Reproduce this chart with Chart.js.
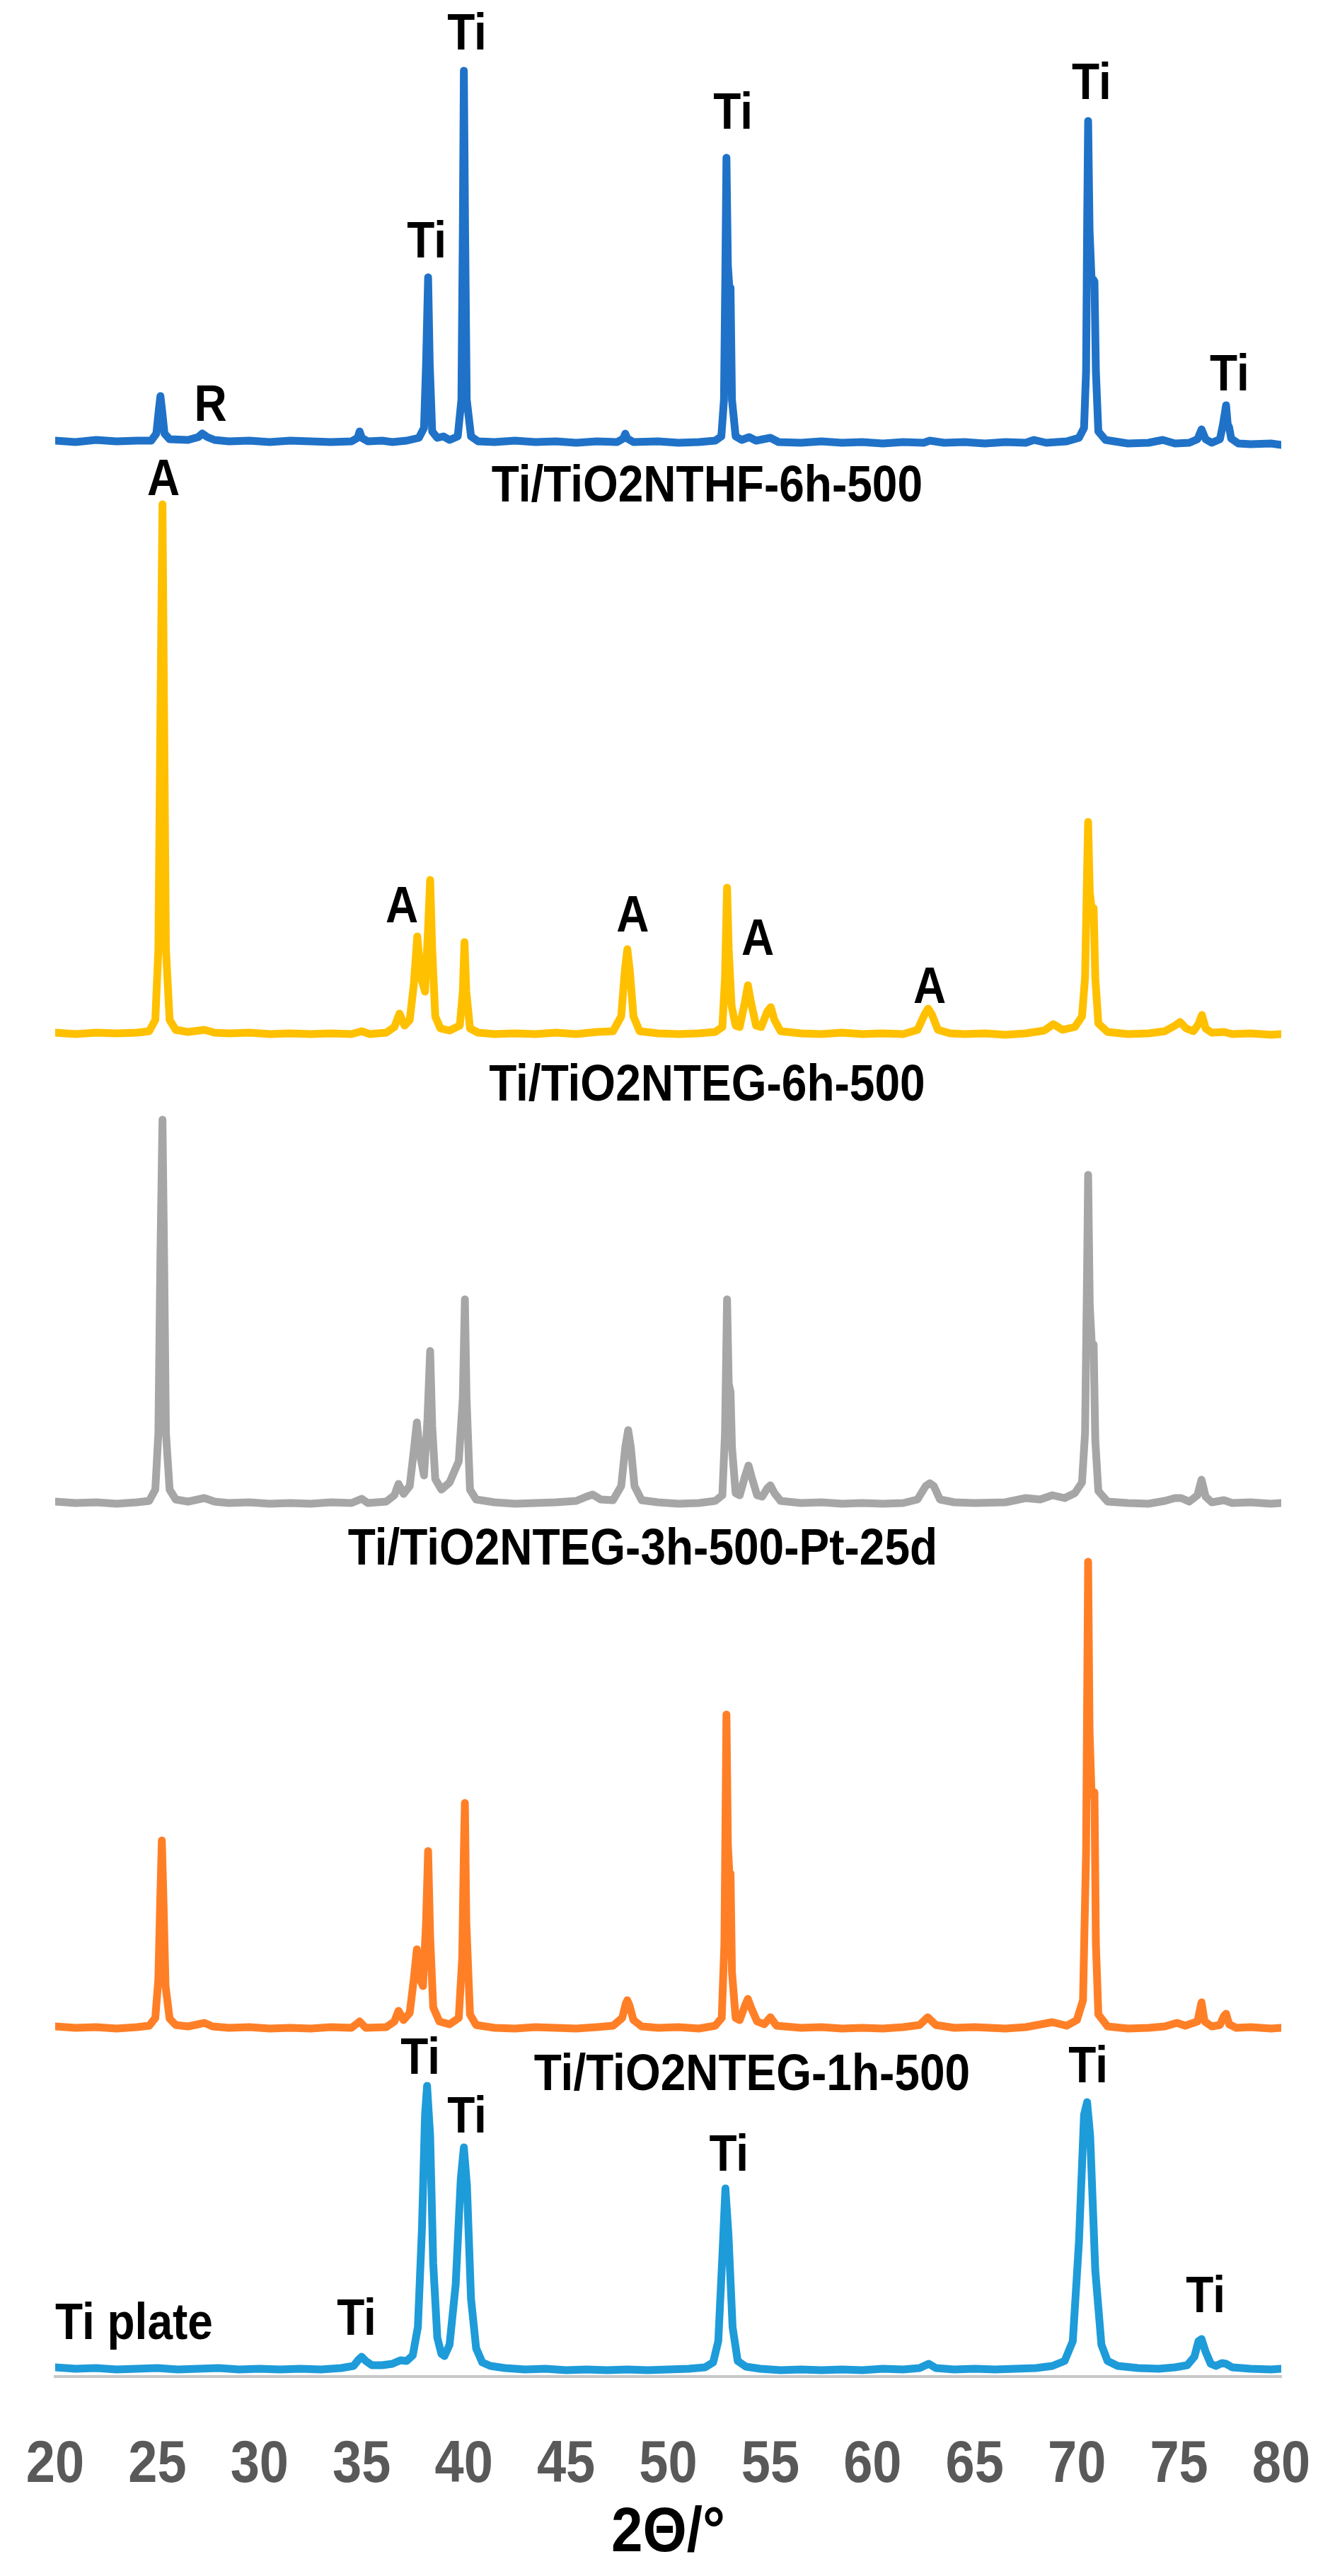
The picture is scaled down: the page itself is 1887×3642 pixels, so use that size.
<!DOCTYPE html>
<html>
<head>
<meta charset="utf-8">
<script src="https://cdn.jsdelivr.net/npm/chart.js@4.4.1/dist/chart.umd.min.js"></script>
<style>
  html, body { margin: 0; padding: 0; background: #fff; }
  #wrap { width: 1887px; height: 3642px; }
</style>
</head>
<body>
<div id="wrap"><canvas id="xrd" width="1887" height="3642"></canvas></div>
<script>
// 2θ tick labels
const twoThetaTicks = [20, 25, 30, 35, 40, 45, 50, 55, 60, 65, 70, 75, 80];

const seriesNames = ['Ti/TiO2NTHF-6h-500', 'Ti/TiO2NTEG-6h-500', 'Ti/TiO2NTEG-3h-500-Pt-25d', 'Ti/TiO2NTEG-1h-500', 'Ti plate'];
// vertical stacking offset of each pattern (a.u.)
const seriesOffsets = [2735, 1898, 1234, 492, 10];

// patterns as [2θ, intensity a.u.]
const thf6h = [
  [20,2],[21,0],[22,3],[23,1],[24,2],[24.7,2],[24.95,12],[25.07,45],[25.15,65],[25.23,45],[25.35,12],[25.6,4],
  [26.5,3],[27.0,7],[27.2,12],[27.45,7],[27.8,3],[28.5,1],[29.5,2],[30.5,0],[31.5,2],[32.5,1],[33.5,0],[34.5,1],
  [34.8,6],[34.9,15],[35.0,6],[35.3,1],[36,2],[36.5,0],[37.2,2],[37.8,6],[38.05,20],[38.15,110],[38.25,233],
  [38.33,110],[38.45,15],[38.7,6],[39.0,8],[39.3,3],[39.7,8],[39.88,60],[39.95,300],[40.0,525],[40.06,300],
  [40.14,60],[40.35,8],[40.7,1],[41.5,0],[42.5,2],[43.5,0],[44.5,1],[45.5,-1],[46.5,1],[47.5,0],[47.8,5],
  [47.9,12],[48.0,5],[48.3,0],[49.5,1],[50.5,-1],[51.5,0],[52.3,2],[52.6,8],[52.73,60],[52.8,250],[52.85,402],
  [52.92,250],[53.0,215],[53.05,218],[53.12,60],[53.3,8],[53.6,3],[53.96,7],[54.3,2],[55.0,6],[55.4,0],[56.5,-1],
  [57.5,1],[58.5,-1],[59.5,0],[60.5,-2],[61.5,0],[62.5,-1],[62.8,2],[63.5,-1],[64.5,0],[65.5,-2],[66.5,0],
  [67.5,-1],[67.9,3],[68.5,-1],[69.5,1],[70.1,6],[70.35,20],[70.45,100],[70.5,300],[70.55,454],[70.62,300],
  [70.72,228],[70.8,230],[70.86,227],[70.93,100],[71.05,15],[71.4,3],[72.5,-2],[73.5,-1],[74.2,3],[74.8,-2],
  [75.5,-1],[75.9,4],[76.1,18],[76.3,4],[76.6,-1],[77.0,4],[77.15,25],[77.3,52],[77.38,25],[77.45,21],[77.55,5],
  [77.9,-2],[78.5,-3],[79.5,-2],[80,-4]
];

const teg6h = [
  [20,2],[21,0],[22,2],[23,1],[24,2],[24.6,4],[24.9,20],[25.05,120],[25.15,450],[25.25,749],[25.33,450],
  [25.42,120],[25.6,20],[25.9,6],[26.5,3],[27.3,6],[27.8,2],[28.5,1],[29.5,2],[30.5,0],[31.5,1],[32.5,0],
  [33.5,1],[34.5,0],[35.0,4],[35.4,0],[36.2,2],[36.6,10],[36.85,29],[37.1,12],[37.35,20],[37.55,70],[37.72,138],
  [37.9,80],[38.1,60],[38.25,150],[38.35,218],[38.45,120],[38.6,25],[38.85,8],[39.3,5],[39.8,12],[39.95,60],
  [40.03,130],[40.12,60],[40.3,8],[40.7,2],[41.5,0],[42.5,1],[43.5,0],[44.5,2],[45.5,0],[46.5,3],[47.3,4],
  [47.7,25],[47.88,90],[48.0,120],[48.12,90],[48.3,25],[48.6,4],[49.5,1],[50.5,0],[51.5,1],[52.3,3],[52.65,10],
  [52.78,80],[52.88,207],[52.96,120],[53.1,40],[53.3,12],[53.5,10],[53.75,45],[53.9,69],[54.05,45],[54.3,12],
  [54.55,10],[54.85,32],[55.02,38],[55.2,20],[55.5,4],[56.5,1],[57.5,0],[58.5,2],[59.5,0],[60.5,1],[61.5,0],
  [62.2,6],[62.55,28],[62.72,36],[62.9,28],[63.2,6],[63.8,1],[64.5,0],[65.5,1],[66.5,-1],[67.5,1],[68.4,5],
  [68.85,14],[69.3,6],[69.9,10],[70.25,25],[70.4,80],[70.5,230],[70.55,300],[70.63,200],[70.73,175],[70.82,178],
  [70.9,80],[71.05,15],[71.5,3],[72.5,0],[73.5,1],[74.3,4],[74.8,12],[75.05,17],[75.35,8],[75.7,4],[75.95,14],
  [76.12,27],[76.3,8],[76.6,2],[77.2,3],[77.6,0],[78.5,1],[79.5,-1],[80,0]
];

const teg3hPt = [
  [20,3],[21,1],[22,2],[23,0],[24,2],[24.6,4],[24.9,20],[25.05,100],[25.15,350],[25.25,543],[25.33,350],
  [25.42,100],[25.6,20],[25.9,6],[26.5,3],[27.3,8],[27.8,3],[28.5,1],[29.5,2],[30.5,0],[31.5,1],[32.5,0],
  [33.5,2],[34.5,1],[35.0,7],[35.3,1],[36.2,3],[36.6,12],[36.8,28],[37.05,14],[37.35,25],[37.55,75],[37.7,115],
  [37.85,70],[38.05,40],[38.22,120],[38.35,216],[38.45,110],[38.6,35],[38.9,20],[39.3,30],[39.6,50],[39.75,60],
  [39.95,150],[40.05,289],[40.13,150],[40.3,20],[40.6,6],[41.5,2],[42.5,0],[43.5,1],[44.5,2],[45.5,4],[46.0,10],
  [46.3,13],[46.7,6],[47.3,5],[47.7,25],[47.9,80],[48.04,104],[48.17,80],[48.35,25],[48.7,5],[49.5,2],[50.5,0],
  [51.5,1],[52.3,4],[52.65,12],[52.78,100],[52.88,289],[52.96,170],[53.05,158],[53.12,80],[53.3,15],[53.5,12],
  [53.75,38],[53.93,54],[54.08,38],[54.35,12],[54.6,10],[54.85,22],[55.0,26],[55.2,15],[55.5,4],[56.5,1],
  [57.5,2],[58.5,0],[59.5,1],[60.5,0],[61.5,1],[62.2,6],[62.6,25],[62.8,29],[63.0,25],[63.3,6],[64,2],[65,1],
  [66.5,2],[67.5,8],[68.2,6],[68.8,12],[69.4,8],[69.9,15],[70.25,30],[70.4,100],[70.5,330],[70.55,465],
  [70.63,280],[70.73,225],[70.82,225],[70.9,90],[71.05,18],[71.5,3],[72.5,1],[73.5,0],[74.3,4],[74.8,8],
  [75.1,8],[75.5,3],[75.9,12],[76.1,34],[76.3,10],[76.6,2],[77.2,5],[77.6,1],[78.5,2],[79.5,0],[80,1]
];

const teg1h = [
  [20,3],[21,1],[22,2],[23,0],[24,2],[24.6,4],[24.9,15],[25.05,70],[25.14,180],[25.22,266],[25.3,180],
  [25.4,60],[25.6,14],[25.9,5],[26.5,3],[27.0,6],[27.3,8],[27.7,3],[28.5,1],[29.5,2],[30.5,0],[31.5,1],
  [32.5,0],[33.5,2],[34.5,1],[34.9,10],[35.2,1],[36.2,2],[36.6,10],[36.8,25],[37.05,12],[37.35,22],[37.55,70],
  [37.7,112],[37.85,70],[38.0,60],[38.15,150],[38.25,251],[38.35,130],[38.5,30],[38.8,10],[39.3,6],[39.75,15],
  [39.92,100],[40.0,250],[40.05,319],[40.12,150],[40.3,20],[40.6,5],[41.5,1],[42.5,0],[43.5,2],[44.5,1],
  [45.5,0],[46.5,2],[47.3,4],[47.75,15],[47.92,35],[48.0,40],[48.1,33],[48.3,12],[48.7,3],[49.5,1],[50.5,2],
  [51.5,0],[52.3,4],[52.62,15],[52.75,120],[52.85,444],[52.92,260],[53.0,215],[53.05,219],[53.12,80],[53.3,15],
  [53.5,12],[53.75,32],[53.9,42],[54.05,30],[54.35,10],[54.7,6],[55.0,16],[55.3,4],[56.5,1],[57.5,2],[58.5,0],
  [59.5,1],[60.5,0],[61.5,2],[62.3,5],[62.7,16],[63.1,5],[64,1],[65,2],[66.5,0],[67.5,2],[68.8,9],[69.5,4],
  [70.0,12],[70.3,40],[70.45,250],[70.55,660],[70.62,420],[70.72,330],[70.8,335],[70.86,334],[70.93,120],
  [71.05,20],[71.5,3],[72.5,0],[73.5,1],[74.3,3],[74.9,8],[75.3,4],[75.9,10],[76.1,37],[76.25,10],[76.6,3],
  [77.0,5],[77.2,18],[77.3,21],[77.45,6],[77.8,1],[78.5,2],[79.5,0],[80,1]
];

const tiPlate = [
  [20,3],[21,1],[22,2],[23,0],[24,1],[25,2],[26,0],[27,1],[28,2],[29,0],[30,1],[31,0],[32,1],[33,0],[34,2],
  [34.6,5],[34.85,14],[35.0,18],[35.2,12],[35.5,6],[36.0,6],[36.5,8],[36.9,13],[37.2,12],[37.5,20],[37.75,60],
  [37.95,200],[38.1,360],[38.2,401],[38.35,330],[38.5,150],[38.7,45],[38.9,22],[39.05,19],[39.3,35],[39.6,120],
  [39.85,270],[40.0,314],[40.15,260],[40.35,100],[40.6,30],[40.9,10],[41.3,5],[42,2],[43,0],[44,1],[45,-1],
  [46,0],[47,-1],[48,0],[49,-1],[50,0],[51,1],[51.8,3],[52.2,10],[52.45,40],[52.65,160],[52.8,256],[52.95,190],
  [53.15,60],[53.4,12],[53.8,4],[54.5,1],[55.5,-1],[56.5,0],[57.5,-1],[58.5,0],[59.5,-1],[60.5,1],[61.5,0],
  [62.3,2],[62.75,8],[63.1,2],[64,0],[65,1],[66,0],[67,1],[68,2],[68.8,5],[69.4,12],[69.8,40],[70.1,180],
  [70.35,360],[70.5,378],[70.65,330],[70.9,140],[71.2,35],[71.5,12],[72,5],[73,2],[74,1],[74.8,3],[75.4,6],
  [75.75,18],[75.95,40],[76.1,43],[76.3,25],[76.55,8],[76.8,5],[77.1,9],[77.3,8],[77.6,3],[78.5,1],[79.5,0],[80,1]
];

// phase marks and sample names, anchored in data units
const peakLabels = [
  { text: 'Ti', x: 40.15, y: 3310 },
  { text: 'Ti', x: 38.18, y: 3016 },
  { text: 'Ti', x: 53.17, y: 3198 },
  { text: 'Ti', x: 70.72, y: 3240 },
  { text: 'Ti', x: 77.47, y: 2828 },
  { text: 'R', x: 27.6, y: 2785 },
  { text: seriesNames[0], x: 51.9, y: 2671 },
  { text: 'A', x: 25.3, y: 2680 },
  { text: 'A', x: 36.97, y: 2076 },
  { text: 'A', x: 48.26, y: 2063 },
  { text: 'A', x: 54.38, y: 2030 },
  { text: 'A', x: 62.8, y: 1962 },
  { text: seriesNames[1], x: 51.9, y: 1824 },
  { text: seriesNames[2], x: 48.75, y: 1168 },
  { text: seriesNames[3], x: 54.1, y: 425 },
  { text: 'Ti', x: 37.87, y: 448 },
  { text: 'Ti', x: 40.15, y: 365 },
  { text: 'Ti', x: 52.97, y: 311 },
  { text: 'Ti', x: 70.55, y: 436 },
  { text: 'Ti', x: 76.3, y: 111 },
  { text: 'Ti', x: 34.75, y: 79 },
  { text: seriesNames[4], x: 20, y: 73, align: 'left' }
];

const lineColors = ['#1f72c7', '#ffc000', '#a6a6a6', '#ff7f27', '#1e9bd9'];
const fontFamily = '"Liberation Sans", Arial, sans-serif';
const textStretch = 1.12;   // the original lettering is a little taller than Arial
const tickFont = { family: fontFamily, size: 74, weight: 'bold' };
const titleFont = { family: fontFamily, size: 80, weight: 'bold' };
const tickPad = 82;
const titlePad = 12;

function withStretch(ctx, cy, draw) {
  ctx.save();
  ctx.translate(0, cy);
  ctx.scale(1, textStretch);
  ctx.translate(0, -cy);
  draw();
  ctx.restore();
}

const peakLabelPlugin = {
  id: 'peakLabels',
  afterDatasetsDraw(chart) {
    const { ctx, scales: { x, y } } = chart;
    ctx.save();
    ctx.fillStyle = '#000';
    ctx.font = 'bold 64px ' + fontFamily;
    ctx.textBaseline = 'middle';
    peakLabels.forEach(l => {
      ctx.save();
      ctx.translate(x.getPixelForValue(l.x), y.getPixelForValue(l.y));
      ctx.scale(1, textStretch);
      ctx.textAlign = l.align || 'center';
      ctx.fillText(l.text, 0, 0);
      ctx.restore();
    });
    ctx.restore();
  }
};

const patterns = [thf6h, teg6h, teg3hPt, teg1h, tiPlate];

new Chart(document.getElementById('xrd'), {
  type: 'line',
  data: {
    datasets: patterns.map((pts, i) => ({
      label: seriesNames[i],
      data: pts.map(([t, v]) => ({ x: t, y: v + seriesOffsets[i] })),
      borderColor: lineColors[i],
      borderWidth: 11,
      borderJoinStyle: 'round',
      borderCapStyle: 'round',
      pointRadius: 0,
      tension: 0,
      fill: false
    }))
  },
  options: {
    responsive: false,
    devicePixelRatio: 1,
    animation: false,
    layout: { padding: { left: 78, right: 76, top: 0, bottom: 0 } },
    plugins: { legend: { display: false }, tooltip: { enabled: false } },
    scales: {
      x: {
        type: 'linear',
        min: 20,
        max: 80,
        afterBuildTicks: s => { s.ticks = twoThetaTicks.map(v => ({ value: v })); },
        afterFit: s => {
          s.height = 282;
          s.paddingLeft = 0;
          s.paddingRight = 0;
          const proto = Object.getPrototypeOf(s);
          s.drawLabels = function (area) {
            const cy = this.top + tickPad + tickFont.size * 0.6;
            withStretch(this.ctx, cy, () => proto.drawLabels.call(this, area));
          };
          s.drawTitle = function () {
            const cy = this.bottom - titlePad - titleFont.size * 0.6;
            withStretch(this.ctx, cy, () => proto.drawTitle.call(this));
          };
        },
        grid: { display: false, drawTicks: false },
        border: { display: true, color: '#c8c8c8', width: 4 },
        ticks: { color: '#595959', font: tickFont, padding: tickPad, maxRotation: 0, autoSkip: false },
        title: {
          display: true,
          text: '2Θ/°',
          color: '#000',
          font: titleFont,
          padding: { top: 0, bottom: titlePad }
        }
      },
      y: { type: 'linear', display: false, min: 0, max: 3360 }
    }
  },
  plugins: [peakLabelPlugin]
});
</script>
</body>
</html>
